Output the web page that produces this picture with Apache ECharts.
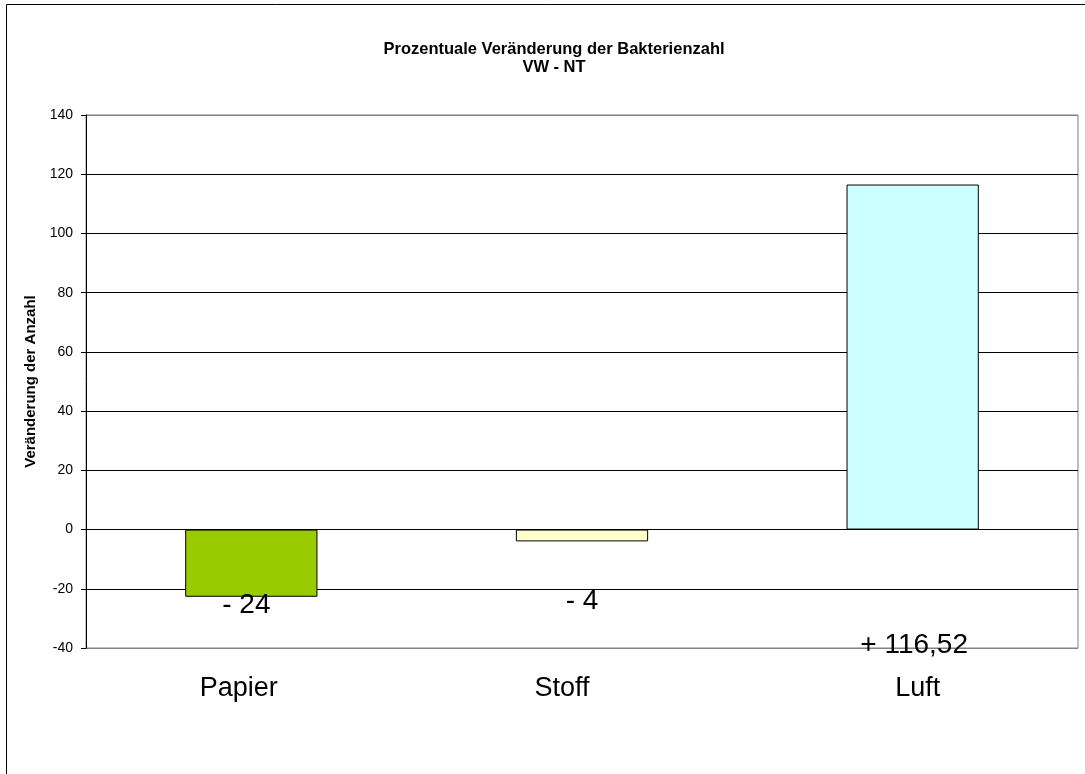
<!DOCTYPE html>
<html><head><meta charset="utf-8">
<script src="https://cdn.jsdelivr.net/npm/echarts@6/dist/echarts.min.js"></script>
<style>html,body{margin:0;padding:0;background:#fff}#c{width:1085px;height:774px}</style>
</head><body><div id="c"></div>
<script>
const categories = ['Papier', 'Stoff', 'Luft'];
const values = [-22.7, -4, 116.52];
const valueLabels = ['- 24', '- 4', '+ 116,52'];
const barColors = ['#99CC00', '#FFFFCC', '#CCFFFF'];
const labelOffsets = [[-5, -5], [0, 46], [1.5, 101.5]];
const catPadding = [[0, 25, 0, 0], [0, 40, 0, 0], [0, 0, 0, 10]];
const gridLineColors = ['#808080', '#000', '#000', '#000', '#000', '#000', '#000', '#000', '#000', '#808080'];

const chart = echarts.init(document.getElementById('c'));
const F = 'Arial, "Liberation Sans", sans-serif';
chart.setOption({
  animation: false,
  title: {
    text: 'Prozentuale Veränderung der Bakterienzahl\nVW - NT',
    left: 549, top: 35, textAlign: 'center',
    textStyle: { fontFamily: F, fontSize: 16.5, fontWeight: 'bold', color: '#000', lineHeight: 18 }
  },
  graphic: [{
    type: 'rect', shape: { x: 6.5, y: 4.5, width: 1200, height: 900 },
    style: { fill: 'none', stroke: '#000', lineWidth: 1 }, silent: true, z: -10
  }],
  grid: { left: 86, right: 7, top: 115, bottom: 126, show: true, borderColor: '#808080', borderWidth: 1 },
  xAxis: {
    type: 'category',
    data: categories.map((c, i) => ({ value: c, textStyle: { padding: catPadding[i] } })),
    axisLine: { show: false }, axisTick: { show: false },
    axisLabel: { fontFamily: F, fontSize: 27, color: '#000', margin: 27.5 }
  },
  yAxis: {
    type: 'value', min: -40, max: 140, interval: 20,
    name: 'Veränderung der Anzahl', nameLocation: 'middle', nameGap: 47.5, nameRotate: 90,
    nameTextStyle: { fontFamily: F, fontSize: 15, fontWeight: 'bold', color: '#000' },
    axisLine: { show: true, lineStyle: { color: '#000' } },
    axisTick: { show: true, length: 5, lineStyle: { color: '#000' } },
    axisLabel: { fontFamily: F, fontSize: 14, color: '#000', margin: 13 },
    splitLine: { show: true, lineStyle: { color: gridLineColors, width: 1 } }
  },
  series: [{
    type: 'bar', barCategoryGap: '60%',
    data: values.map((v, i) => ({
      value: v,
      itemStyle: { color: barColors[i], borderColor: '#000', borderWidth: 1 },
      label: { show: true, position: 'bottom', distance: 0, offset: labelOffsets[i],
               formatter: valueLabels[i], fontFamily: F, fontSize: 28, color: '#000' }
    }))
  }]
});
</script></body></html>
